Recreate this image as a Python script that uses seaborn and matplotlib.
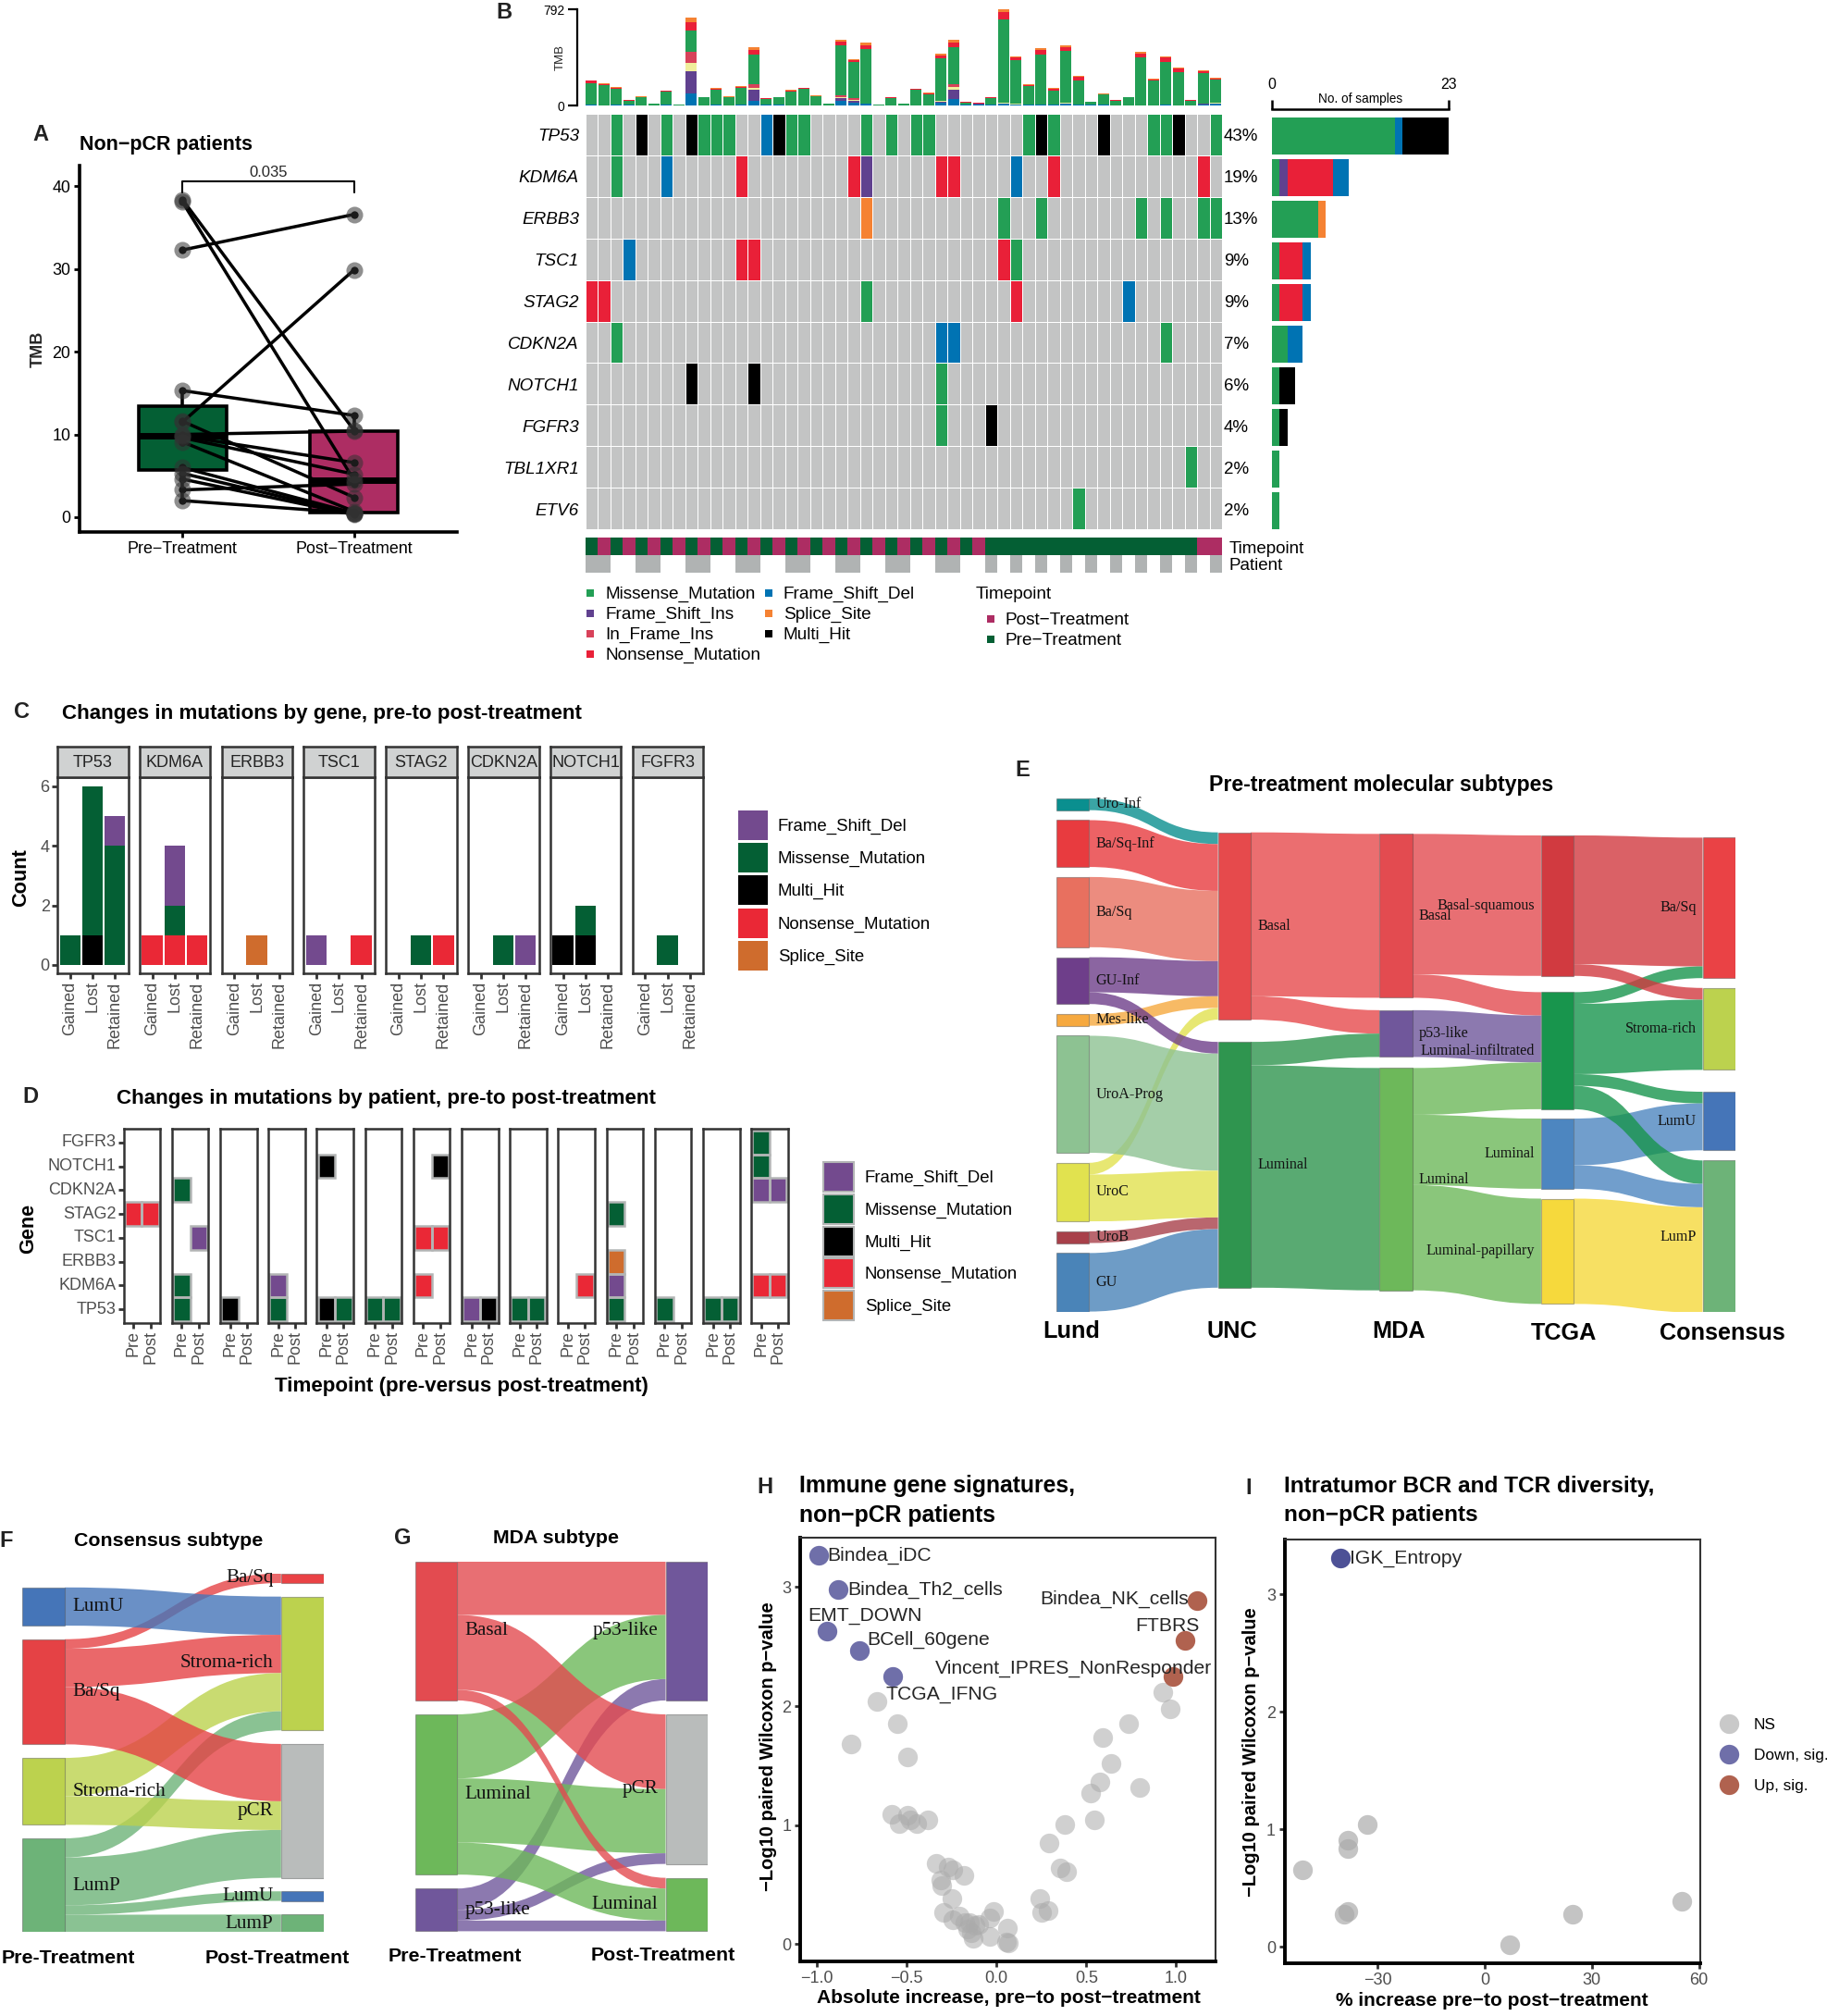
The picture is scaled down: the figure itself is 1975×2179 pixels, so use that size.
"""Multi-panel figure: TMB, oncoplot, mutation changes, subtype flows, volcano plots."""
import numpy as np
import pandas as pd
import matplotlib
matplotlib.use("Agg")
import matplotlib.pyplot as plt
import seaborn as sns
from matplotlib.colors import ListedColormap
from matplotlib.patches import PathPatch, Rectangle
from matplotlib.path import Path

W, H = 1975, 2179

# ---- panel A
a_pre = [38.4, 38.1, 32.3, 15.3, 11.5, 11.6, 10.0, 9.8, 9.6, 9.1, 6.0, 5.3, 4.6, 3.3, 2.0]
a_post = [10.5, 4.5, 36.6, 12.3, 29.9, 2.4, 10.4, 6.6, 5.2, 0.7, 0.5, 0.4, 0.3, 4.0, 0.5]

# ---- panel B
genes = ["TP53", "KDM6A", "ERBB3", "TSC1", "STAG2", "CDKN2A", "NOTCH1", "FGFR3", "TBL1XR1", "ETV6"]
gene_pct = ["43%", "19%", "13%", "9%", "9%", "7%", "6%", "4%", "2%", "2%"]
onco_hits = [
    ("TP53", "M", [2, 6, 9, 10, 11, 16, 17, 22, 24, 26, 27, 35, 37, 45, 46, 50]),
    ("TP53", "H", [4, 8, 15, 36, 41, 47]),
    ("TP53", "F", [14]),
    ("KDM6A", "M", [2]),
    ("KDM6A", "F", [6, 34]),
    ("KDM6A", "N", [12, 21, 28, 29, 37, 49]),
    ("KDM6A", "P", [22]),
    ("ERBB3", "S", [22]),
    ("ERBB3", "M", [33, 36, 44, 46, 49, 50]),
    ("TSC1", "F", [3]),
    ("TSC1", "N", [12, 13, 33]),
    ("TSC1", "M", [34]),
    ("STAG2", "N", [0, 1, 34]),
    ("STAG2", "M", [22]),
    ("STAG2", "F", [43]),
    ("CDKN2A", "M", [2, 46]),
    ("CDKN2A", "F", [28, 29]),
    ("NOTCH1", "H", [8, 13]),
    ("NOTCH1", "M", [28]),
    ("FGFR3", "M", [28]),
    ("FGFR3", "H", [32]),
    ("TBL1XR1", "M", [48]),
    ("ETV6", "M", [39]),
]
tmb_blue = [5, 3, 5, 5, 3, 0, 5, 2, 97, 3, 5, 3, 5, 36, 8, 8, 3, 3, 3, 0, 38, 25, 18, 0, 3, 3, 3, 3, 25, 56, 5, 8, 8, 15, 10, 10, 5, 8, 13, 5, 5, 8, 3, 3, 3, 3, 5, 3, 3, 8, 13]
tmb_purple = [0, 0, 0, 3, 0, 3, 0, 0, 188, 0, 3, 0, 0, 91, 0, 0, 0, 0, 0, 0, 20, 13, 0, 3, 0, 0, 0, 0, 3, 71, 3, 5, 0, 0, 0, 0, 0, 3, 5, 0, 0, 0, 0, 0, 0, 0, 0, 0, 0, 5, 3]
tmb_yellow = [3, 0, 0, 0, 0, 0, 0, 0, 63, 0, 0, 0, 0, 18, 0, 0, 0, 0, 0, 0, 13, 8, 0, 0, 0, 0, 0, 0, 8, 23, 0, 0, 0, 5, 5, 0, 3, 0, 8, 0, 0, 0, 0, 0, 0, 0, 3, 0, 0, 3, 5]
tmb_pink = [0, 0, 0, 0, 0, 0, 0, 0, 94, 0, 0, 0, 0, 33, 0, 0, 0, 0, 0, 0, 10, 13, 0, 0, 0, 0, 0, 0, 0, 23, 0, 0, 0, 0, 0, 0, 0, 0, 0, 0, 0, 0, 0, 0, 0, 0, 0, 0, 0, 0, 0]
tmb_green = [175, 162, 132, 33, 63, 9, 108, 6, 178, 65, 121, 65, 141, 244, 47, 58, 113, 131, 70, 12, 414, 302, 445, 5, 58, 9, 123, 90, 350, 307, 17, 2, 55, 686, 355, 150, 413, 114, 424, 198, 22, 81, 37, 63, 393, 202, 352, 274, 37, 248, 190]
tmb_red = [20, 13, 10, 2, 5, 3, 8, 0, 66, 3, 10, 3, 8, 38, 3, 3, 8, 8, 5, 0, 30, 13, 30, 0, 5, 0, 8, 8, 25, 38, 2, 5, 3, 66, 28, 10, 36, 15, 30, 33, 3, 5, 3, 0, 30, 10, 38, 28, 3, 18, 10]
tmb_orange = [5, 5, 3, 0, 3, 0, 3, 0, 36, 0, 3, 3, 3, 18, 3, 0, 3, 3, 3, 3, 18, 8, 23, 0, 3, 3, 3, 3, 13, 20, 3, 3, 3, 20, 8, 5, 15, 5, 15, 8, 0, 5, 0, 3, 13, 3, 8, 5, 0, 8, 8]
side_green = [16, 1, 6, 1, 1, 2, 1, 1, 1, 1]
side_purple = [0, 1, 0, 0, 0, 0, 0, 0, 0, 0]
side_red = [0, 6, 0, 3, 3, 0, 0, 0, 0, 0]
side_blue = [1, 2, 0, 1, 1, 2, 0, 0, 0, 0]
side_orange = [0, 0, 1, 0, 0, 0, 0, 0, 0, 0]
side_black = [6, 0, 0, 0, 0, 0, 2, 1, 0, 0]
track_time = [0, 1] * 16 + [0] * 17 + [1, 1]
track_patient = [2, 2, 3, 3] * 8 + [2, 3] * 9 + [2]

# ---- panel C
c_genes = ["TP53", "KDM6A", "ERBB3", "TSC1", "STAG2", "CDKN2A", "NOTCH1", "FGFR3"]
c_status = ["Gained", "Lost", "Retained"]
c_splice = [[0, 0, 0], [0, 0, 0], [0, 1, 0], [0, 0, 0], [0, 0, 0], [0, 0, 0], [0, 0, 0], [0, 0, 0]]
c_nonsense = [[0, 0, 0], [1, 1, 1], [0, 0, 0], [0, 0, 1], [0, 0, 1], [0, 0, 0], [0, 0, 0], [0, 0, 0]]
c_multi = [[0, 1, 0], [0, 0, 0], [0, 0, 0], [0, 0, 0], [0, 0, 0], [0, 0, 0], [1, 1, 0], [0, 0, 0]]
c_missense = [[1, 5, 4], [0, 1, 0], [0, 0, 0], [0, 0, 0], [0, 1, 0], [0, 1, 0], [0, 1, 0], [0, 1, 0]]
c_fsd = [[0, 0, 1], [0, 2, 0], [0, 0, 0], [1, 0, 0], [0, 0, 0], [0, 0, 1], [0, 0, 0], [0, 0, 0]]
mut_types = ["Frame_Shift_Del", "Missense_Mutation", "Multi_Hit", "Nonsense_Mutation", "Splice_Site"]

# ---- panel D: (gene, timepoint index, mutation type index) per patient
d_genes = ["FGFR3", "NOTCH1", "CDKN2A", "STAG2", "TSC1", "ERBB3", "KDM6A", "TP53"]
d_patients = [
    [("STAG2", 0, 3), ("STAG2", 1, 3)],
    [("CDKN2A", 0, 1), ("TSC1", 1, 0), ("KDM6A", 0, 1), ("TP53", 0, 1)],
    [("TP53", 0, 2)],
    [("KDM6A", 0, 0), ("TP53", 0, 1)],
    [("NOTCH1", 0, 2), ("TP53", 0, 2), ("TP53", 1, 1)],
    [("TP53", 0, 1), ("TP53", 1, 1)],
    [("NOTCH1", 1, 2), ("TSC1", 0, 3), ("TSC1", 1, 3), ("KDM6A", 0, 3)],
    [("TP53", 0, 0), ("TP53", 1, 2)],
    [("TP53", 0, 1), ("TP53", 1, 1)],
    [("KDM6A", 1, 3)],
    [("STAG2", 0, 1), ("ERBB3", 0, 4), ("KDM6A", 0, 0), ("TP53", 0, 1)],
    [("TP53", 0, 1)],
    [("TP53", 0, 1), ("TP53", 1, 1)],
    [("FGFR3", 0, 1), ("NOTCH1", 0, 1), ("CDKN2A", 0, 0), ("CDKN2A", 1, 0), ("KDM6A", 0, 3), ("KDM6A", 1, 3)],
]

# ---- panel E flows
e_nodes = [
    ["Uro-Inf", "Ba/Sq-Inf", "Ba/Sq", "GU-Inf", "Mes-like", "UroA-Prog", "UroC", "UroB", "GU"],
    ["Basal", "Luminal"],
    ["Basal", "p53-like", "Luminal"],
    ["Basal-squamous", "Luminal-infiltrated", "Luminal", "Luminal-papillary"],
    ["Ba/Sq", "Stroma-rich", "LumU", "LumP"],
]
e_flows = [
    (0, "Uro-Inf", "Basal", 1), (0, "Ba/Sq-Inf", "Basal", 4), (0, "Ba/Sq", "Basal", 6),
    (0, "GU-Inf", "Basal", 3), (0, "GU-Inf", "Luminal", 1), (0, "Mes-like", "Basal", 1),
    (0, "UroA-Prog", "Luminal", 10), (0, "UroC", "Basal", 1), (0, "UroC", "Luminal", 4),
    (0, "UroB", "Luminal", 1), (0, "GU", "Luminal", 5),
    (1, "Basal", "Basal", 14), (1, "Basal", "p53-like", 2),
    (1, "Luminal", "p53-like", 2), (1, "Luminal", "Luminal", 19),
    (2, "Basal", "Basal-squamous", 12), (2, "Basal", "Luminal-infiltrated", 2),
    (2, "p53-like", "Luminal-infiltrated", 4), (2, "Luminal", "Luminal-infiltrated", 4),
    (2, "Luminal", "Luminal", 6), (2, "Luminal", "Luminal-papillary", 9),
    (3, "Basal-squamous", "Ba/Sq", 11), (3, "Basal-squamous", "Stroma-rich", 1),
    (3, "Luminal-infiltrated", "Ba/Sq", 1), (3, "Luminal-infiltrated", "Stroma-rich", 6),
    (3, "Luminal-infiltrated", "LumU", 1), (3, "Luminal-infiltrated", "LumP", 2),
    (3, "Luminal", "LumU", 4), (3, "Luminal", "LumP", 2), (3, "Luminal-papillary", "LumP", 9),
]
e_colors = [
    ["#0a8f8f", "#e83b3f", "#e8705f", "#6e3e8a", "#f6a93f", "#8dc292", "#e1e24f", "#a8404a", "#4a84b8"],
    ["#e64a4c", "#2f954f"],
    ["#e34b50", "#70579b", "#6db85a"],
    ["#d13a40", "#18954d", "#4d86c0", "#f6d93c"],
    ["#ea4245", "#bcd24e", "#4575b8", "#6db378"],
]

# ---- panel F flows
f_nodes = [["LumU", "Ba/Sq", "Stroma-rich", "LumP"], ["Ba/Sq", "Stroma-rich", "pCR", "LumU", "LumP"]]
f_flows = [
    (0, "LumU", "Stroma-rich", 4), (0, "Ba/Sq", "Ba/Sq", 1), (0, "Ba/Sq", "Stroma-rich", 4),
    (0, "Ba/Sq", "pCR", 6), (0, "Stroma-rich", "Stroma-rich", 4), (0, "Stroma-rich", "pCR", 3),
    (0, "LumP", "Stroma-rich", 2), (0, "LumP", "pCR", 5), (0, "LumP", "LumU", 1), (0, "LumP", "LumP", 2),
]
f_colors = [["#4575b8", "#e54245", "#bcd24e", "#6db378"], ["#ea4245", "#bcd24e", "#b9bcbb", "#4575b8", "#6db378"]]

# ---- panel G flows
g_nodes = [["Basal", "Luminal", "p53-like"], ["p53-like", "pCR", "Luminal"]]
g_flows = [
    (0, "Basal", "p53-like", 5), (0, "Basal", "pCR", 7), (0, "Basal", "Luminal", 1),
    (0, "Luminal", "p53-like", 6), (0, "Luminal", "pCR", 6), (0, "Luminal", "Luminal", 3),
    (0, "p53-like", "p53-like", 2), (0, "p53-like", "pCR", 1), (0, "p53-like", "Luminal", 1),
]
g_colors = [["#e34b50", "#6db85a", "#70579b"], ["#70579b", "#b9bcbb", "#6db85a"]]

# ---- panel H
h_down_x = [-0.99, -0.882, -0.947, -0.766, -0.577]
h_down_y = [3.27, 2.98, 2.63, 2.47, 2.25]
h_up_x = [1.118, 1.052, 0.982]
h_up_y = [2.885, 2.55, 2.25]
h_ns_x = [-0.665, -0.555, -0.813, -0.498, -0.586, -0.542, -0.494, -0.481, -0.444, -0.385, -0.334, -0.27, -0.242, -0.181, -0.31, -0.303, -0.247, -0.297, -0.242, -0.205, -0.178, -0.159, -0.141, -0.132, -0.1, -0.15, -0.122, -0.036, -0.018, -0.036, 0.058, 0.056, 0.065, 0.24, 0.249, 0.286, 0.292, 0.352, 0.389, 0.382, 0.547, 0.525, 0.577, 0.639, 0.591, 0.738, 0.797, 0.928, 0.968]
h_ns_y = [2.04, 1.855, 1.68, 1.57, 1.09, 1.01, 1.085, 1.04, 1.01, 1.046, 0.676, 0.643, 0.62, 0.575, 0.54, 0.493, 0.384, 0.262, 0.2, 0.234, 0.18, 0.125, 0.098, 0.044, 0.166, 0.18, 0.153, 0.22, 0.275, 0.065, 0.13, 0.016, 0.011, 0.379, 0.262, 0.28, 0.847, 0.638, 0.61, 1.005, 1.046, 1.27, 1.365, 1.515, 1.733, 1.855, 1.313, 2.115, 1.978]
h_left_labels = ["Bindea_iDC", "Bindea_Th2_cells", "EMT_DOWN", "BCell_60gene", "TCGA_IFNG"]
h_left_x = [-0.941, -0.831, -1.052, -0.72, -0.619]
h_left_y = [3.264, 2.98, 2.76, 2.556, 2.098]
h_right_labels = ["Bindea_NK_cells", "FTBRS", "Vincent_IPRES_NonResponder"]
h_right_x = [1.07, 1.129, 1.198]
h_right_y = [2.897, 2.673, 2.32]

# ---- panel I
i_ns_x = [-32.9, -38.3, -38.4, -50.9, -38.2, -39.4, 7.1, 24.5, 55.2]
i_ns_y = [1.04, 0.91, 0.835, 0.66, 0.30, 0.28, 0.02, 0.278, 0.386]
i_down_x = [-40.3]
i_down_y = [3.31]

C_PRE = "#045f34"
C_POST = "#ad2d63"
ONCO = {"M": "#239f55", "H": "#000000", "F": "#0073b3", "N": "#e92038", "P": "#60418f", "S": "#f58233"}
MUT_COLORS = ["#734a8e", "#045f34", "#000000", "#ea2836", "#cf6c2d"]
GREY_TXT = "#4d4d4d"
DARK = "#333333"

sns.set_theme(style="white")
plt.rcParams["font.family"] = ["Liberation Sans", "DejaVu Sans"]
plt.rcParams["axes.unicode_minus"] = True

fig = plt.figure(figsize=(W / 100, H / 100), dpi=100, facecolor="white")


def px_axes(x0, y0, x1, y1, **kws):
    return fig.add_axes([x0 / W, 1 - y1 / H, (x1 - x0) / W, (y1 - y0) / H], **kws)


pix = px_axes(0, 0, W, H, zorder=20)
pix.set_xlim(0, W)
pix.set_ylim(H, 0)
pix.axis("off")
pix.patch.set_alpha(0)


def note(x, y, s, size=13, weight="normal", ha="left", va="center", color="black", **kws):
    pix.text(x, y + 1.5, s, fontsize=size, fontweight=weight, ha=ha, va=va, color=color, **kws)


for letter, lx, ly in [("A", 44, 144), ("B", 545, 12), ("C", 24, 768), ("D", 33, 1184), ("E", 1105, 831),
                       ("F", 7, 1664), ("G", 435, 1661), ("H", 827, 1606), ("I", 1350, 1607)]:
    note(lx, ly, letter, size=17, weight="bold", ha="center", color="#222222")

# ---- A: paired TMB box plot
df_a = pd.DataFrame({"Timepoint": ["Pre\u2212Treatment"] * 15 + ["Post\u2212Treatment"] * 15, "TMB": a_pre + a_post})
ax = px_axes(86, 179, 494, 575)
sns.boxplot(data=df_a, x="Timepoint", y="TMB", hue="Timepoint", palette=[C_PRE, C_POST], saturation=1,
            width=0.51, linewidth=2.6, linecolor="black", showcaps=False, showfliers=False,
            medianprops={"linewidth": 5}, legend=False, ax=ax)
for y0, y1 in zip(a_pre, a_post):
    ax.plot([0, 1], [y0, y1], color="black", lw=2.5, solid_capstyle="round", zorder=4)
sns.stripplot(data=df_a, x="Timepoint", y="TMB", jitter=False, color="black", size=6, linewidth=0, zorder=4.5, ax=ax)
sns.stripplot(data=df_a, x="Timepoint", y="TMB", jitter=False, color="#333333", alpha=0.55, size=13,
              linewidth=0, zorder=5, ax=ax)
ax.plot([0, 0, 1, 1], [39.3, 40.6, 40.6, 39.3], color="black", lw=1.5, zorder=6, clip_on=False)
ax.text(0.5, 40.8, "0.035", ha="center", va="bottom", fontsize=12)
ax.set_xlim(-0.6, 1.6)
ax.set_ylim(-1.79, 42.5)
ax.set_yticks([0, 10, 20, 30, 40])
ax.set_xlabel("")
ax.set_ylabel("TMB", fontsize=13, fontweight="bold", labelpad=5)
ax.tick_params(left=True, bottom=True, width=2, length=4, labelsize=12.9, colors="black", pad=3)
sns.despine(ax=ax)
for s in ("left", "bottom"):
    ax.spines[s].set_linewidth(2.6)
    ax.spines[s].set_color("black")
note(86, 155, "Non\u2212pCR patients", size=15.5, weight="bold")

# ---- B: oncoplot tracks
ax = px_axes(632.5, 10, 1321, 114)
cols = list(range(51))
bottom = np.zeros(51)
for values, colr in [(tmb_blue, "#0073b3"), (tmb_purple, "#60418f"), (tmb_yellow, "#f0ee9c"), (tmb_pink, "#d8425a"),
                     (tmb_green, "#239f55"), (tmb_red, "#e92038"), (tmb_orange, "#f58233")]:
    sns.barplot(x=cols, y=values, bottom=bottom, color=colr, saturation=1, width=0.92, errorbar=None,
                linewidth=0, ax=ax)
    bottom = bottom + np.array(values)
ax.set_xlim(-0.5, 50.5)
ax.set_ylim(0, 792)
ax.set_yticks([0, 792])
ax.set_xticks([])
ax.set_xlabel("")
ax.set_ylabel("TMB", fontsize=9.5, labelpad=-18)
sns.despine(ax=ax, bottom=True)
ax.spines["left"].set_position(("outward", 6))
ax.spines["left"].set_linewidth(1.6)
ax.spines["left"].set_color("black")
ax.tick_params(left=True, length=7, width=1.6, labelsize=10, colors="black", pad=3)

code_of = {"M": 1, "H": 2, "F": 3, "N": 4, "P": 5, "S": 6}
onco = np.zeros((10, 51))
for gene, kind, hit_cols in onco_hits:
    onco[genes.index(gene), hit_cols] = code_of[kind]
ax = px_axes(632.5, 123, 1321, 572)
sns.heatmap(onco, cmap=ListedColormap(["#c3c4c4", ONCO["M"], ONCO["H"], ONCO["F"], ONCO["N"], ONCO["P"], ONCO["S"]]),
            vmin=-0.5, vmax=6.5, cbar=False, linewidths=0.55, linecolor="white", xticklabels=False, yticklabels=False, ax=ax)
ax.set_yticks([])
for i, gene in enumerate(genes):
    note(626, 124 + 44.9 * (i + 0.5), gene, size=13.6, ha="right", style="italic")
    note(1323, 124 + 44.9 * (i + 0.5), gene_pct[i], size=13.5)

ax = px_axes(632.5, 581, 1321, 619)
sns.heatmap(np.array([track_time, track_patient]), cmap=ListedColormap([C_PRE, C_POST, "#b0b3b3", "white"]),
            vmin=-0.5, vmax=3.5, cbar=False, linewidths=0, xticklabels=False, yticklabels=False, ax=ax)
note(1329, 592, "Timepoint", size=13.5)
note(1329, 610, "Patient", size=13.5)

ax = px_axes(1375, 125, 1566, 574)
left = np.zeros(10)
for values, colr in [(side_green, ONCO["M"]), (side_purple, ONCO["P"]), (side_red, ONCO["N"]), (side_blue, ONCO["F"]),
                     (side_orange, ONCO["S"]), (side_black, ONCO["H"])]:
    sns.barplot(y=genes, x=values, left=left, color=colr, saturation=1, width=0.89, errorbar=None, linewidth=0,
                orient="y", order=genes, ax=ax)
    left = left + np.array(values)
ax.set_xlim(0, 23)
ax.set_ylim(9.5, -0.5)
ax.set_yticks([])
ax.set_xlabel("")
ax.set_ylabel("")
ax.set_xticks([0, 23])
ax.set_xticklabels(["0", "23"])
sns.despine(ax=ax, left=True, bottom=True, top=False)
ax.spines["top"].set_position(("outward", 5))
ax.spines["top"].set_linewidth(1.8)
ax.spines["top"].set_color("black")
ax.tick_params(axis="x", top=True, labeltop=True, bottom=False, labelbottom=False, direction="out",
               length=7, width=1.8, color="black", labelcolor="black", labelsize=11.5, pad=7)
note(1471, 105, "No. of samples", size=9.8, ha="center")

for lab, kx, ky, colr in [("Missense_Mutation", 638, 641, ONCO["M"]), ("Frame_Shift_Ins", 638, 663, ONCO["P"]),
                          ("In_Frame_Ins", 638, 685, "#d8425a"), ("Nonsense_Mutation", 638, 707, ONCO["N"]),
                          ("Frame_Shift_Del", 831, 641, ONCO["F"]), ("Splice_Site", 831, 663, ONCO["S"]),
                          ("Multi_Hit", 831, 685, ONCO["H"]), ("Post\u2212Treatment", 1071, 669, C_POST),
                          ("Pre\u2212Treatment", 1071, 691, C_PRE)]:
    pix.add_patch(Rectangle((kx - 4, ky - 4), 8, 8, facecolor=colr, edgecolor="none"))
    note(kx + 16, ky, lab, size=13.7)
note(1055, 641, "Timepoint", size=13.7)

# ---- C: mutation changes by gene
note(67, 770, "Changes in mutations by gene, pre-to post-treatment", size=16.1, weight="bold")
for g, gene in enumerate(c_genes):
    x0 = 62 + 88.8 * g
    ax = px_axes(x0, 840, x0 + 76.5, 1052)
    bottom = np.zeros(3)
    for values, colr in [(c_splice, MUT_COLORS[4]), (c_nonsense, MUT_COLORS[3]), (c_multi, MUT_COLORS[2]),
                         (c_missense, MUT_COLORS[1]), (c_fsd, MUT_COLORS[0])]:
        sns.barplot(x=c_status, y=values[g], bottom=bottom, color=colr, saturation=1, width=0.92, errorbar=None,
                    linewidth=0, ax=ax)
        bottom = bottom + np.array(values[g])
    ax.set_xlim(-0.57, 2.59)
    ax.set_ylim(-0.28, 6.3)
    ax.set_yticks([0, 2, 4, 6])
    ax.set_xlabel("")
    ax.set_ylabel("")
    ax.tick_params(axis="x", rotation=90, bottom=True, length=4, width=2, color=DARK, labelcolor=GREY_TXT, labelsize=13, pad=2)
    ax.tick_params(axis="y", left=g == 0, labelleft=g == 0, length=4, width=2, color=DARK, labelcolor=GREY_TXT, labelsize=13, pad=2)
    for s in ax.spines.values():
        s.set_visible(True)
        s.set_color(DARK)
        s.set_linewidth(1.8)
    strip = px_axes(x0, 807, x0 + 76.5, 840, facecolor="#d0d2d2")
    strip.set_xticks([])
    strip.set_yticks([])
    for s in strip.spines.values():
        s.set_visible(True)
        s.set_color(DARK)
        s.set_linewidth(1.8)
    strip.text(0.5, 0.46, gene, ha="center", va="center", fontsize=13, color="#222222", transform=strip.transAxes)
note(23, 947, "Count", size=15.7, weight="bold", rotation=90, ha="center")
for k, lab in enumerate(mut_types):
    yy = 892 + 35.2 * k
    pix.add_patch(Rectangle((798, yy - 16), 32, 32, facecolor=MUT_COLORS[k], edgecolor="none"))
    note(841, yy, lab, size=13.4)

# ---- D: mutation changes by patient
note(126, 1186, "Changes in mutations by patient, pre-to post-treatment", size=16.1, weight="bold")
for p, cells in enumerate(d_patients):
    x0 = 133.6 + 52.2 * p
    ax = px_axes(x0, 1220, x0 + 39.5, 1430)
    mat = np.full((8, 2), np.nan)
    for gene, tp, kind in cells:
        mat[d_genes.index(gene), tp] = kind
    sns.heatmap(mat, cmap=ListedColormap(MUT_COLORS), vmin=-0.5, vmax=4.5, cbar=False, linewidths=0, ax=ax)
    # the grey tile outlines only go round filled cells
    for gene, tp, kind in cells:
        ax.add_patch(Rectangle((tp, d_genes.index(gene)), 1, 1, fill=False, edgecolor="#b3b5b5", lw=1.8))
    ax.set_xlim(-0.07, 2.07)
    ax.set_ylim(8.07, -0.07)
    ax.set_xticks([0.5, 1.5])
    ax.set_xticklabels(["Pre", "Post"], rotation=90)
    ax.set_yticks(np.arange(8) + 0.5)
    ax.set_yticklabels(d_genes if p == 0 else [], rotation=0)
    ax.tick_params(axis="x", bottom=True, length=4, width=2, color=DARK, labelcolor=GREY_TXT, labelsize=13, pad=2)
    ax.tick_params(axis="y", left=p == 0, length=4, width=2, color=DARK, labelcolor=GREY_TXT, labelsize=13, pad=2)
    for s in ax.spines.values():
        s.set_visible(True)
        s.set_color(DARK)
        s.set_linewidth(1.8)
note(31, 1326, "Gene", size=15.6, weight="bold", rotation=90, ha="center")
note(499, 1497, "Timepoint (pre-versus post-treatment)", size=16.1, weight="bold", ha="center")
for k, lab in enumerate(mut_types):
    yy = 1272 + 34.8 * k
    pix.add_patch(Rectangle((890, yy - 16), 33, 32, facecolor=MUT_COLORS[k], edgecolor="#b3b5b5", lw=1.5))
    note(935, yy, lab, size=13.4)


# ---- sankey helper
def draw_sankey(ax, nodes, flows, colors, starts, gaps, node_w, label_size, label_pad, label_sides, alpha=0.8):
    tops, sizes = {}, {}
    for st, names in enumerate(nodes):
        for name in names:
            total_out = sum(f[3] for f in flows if f[0] == st and f[1] == name)
            total_in = sum(f[3] for f in flows if f[0] == st - 1 and f[2] == name)
            sizes[(st, name)] = max(total_out, total_in)
        y = starts[st]
        for i, name in enumerate(names):
            tops[(st, name)] = y
            y += sizes[(st, name)] + (gaps[st][i] if i < len(gaps[st]) else 0)
    out_used = {k: 0.0 for k in tops}
    in_used = {k: 0.0 for k in tops}
    order = sorted(flows, key=lambda f: (f[0], nodes[f[0]].index(f[1]), nodes[f[0] + 1].index(f[2])))
    starts_out = {}
    for f in order:
        key = (f[0], f[1])
        starts_out[f] = tops[key] + out_used[key]
        out_used[key] += f[3]
    order_in = sorted(flows, key=lambda f: (f[0], nodes[f[0] + 1].index(f[2]), nodes[f[0]].index(f[1])))
    for f in order_in:
        key = (f[0] + 1, f[2])
        y0 = starts_out[f]
        y1 = tops[key] + in_used[key]
        in_used[key] += f[3]
        xa, xb = f[0] + node_w, f[0] + 1
        xm = (xa + xb) / 2
        verts = [(xa, y0), (xm, y0), (xm, y1), (xb, y1), (xb, y1 + f[3]), (xm, y1 + f[3]), (xm, y0 + f[3]), (xa, y0 + f[3]), (xa, y0)]
        codes = [Path.MOVETO, Path.CURVE4, Path.CURVE4, Path.CURVE4, Path.LINETO, Path.CURVE4, Path.CURVE4, Path.CURVE4, Path.CLOSEPOLY]
        colr = colors[f[0]][nodes[f[0]].index(f[1])]
        ax.add_patch(PathPatch(Path(verts, codes), facecolor=colr, edgecolor="none", alpha=alpha, zorder=2))
    for st, names in enumerate(nodes):
        for i, name in enumerate(names):
            ax.add_patch(Rectangle((st, tops[(st, name)]), node_w, sizes[(st, name)], facecolor=colors[st][i],
                                   edgecolor="#44444466", lw=0.8, zorder=3))
            mid = tops[(st, name)] + sizes[(st, name)] / 2
            if label_sides[st] == "right":
                ax.text(st + node_w + label_pad, mid, name, ha="left", va="center", fontsize=label_size,
                        family="Liberation Serif", color="#111111", zorder=4)
            else:
                ax.text(st - label_pad, mid, name, ha="right", va="center", fontsize=label_size,
                        family="Liberation Serif", color="#111111", zorder=4)
    ax.set_xlim(0, len(nodes) - 1 + node_w)
    ax.axis("off")


# ---- E
ax = px_axes(1142, 863, 1876, 1417.6)
draw_sankey(ax, e_nodes, e_flows, e_colors, starts=[0, 2.9, 3.03, 3.16, 3.35],
            gaps=[[0.855] * 8, [1.9], [1.06, 0.94], [1.39, 0.8, 0.84], [0.84, 1.87, 0.87]],
            node_w=0.203, label_size=11.6, label_pad=0.04,
            label_sides=["right", "right", "right", "left", "left"])
ax.set_ylim(43.84, 0)
note(1493, 847, "Pre-treatment molecular subtypes", size=16.7, weight="bold", ha="center")
for lab, lx, ly in [("Lund", 1158, 1438), ("UNC", 1332, 1437), ("MDA", 1512, 1437), ("TCGA", 1690, 1439), ("Consensus", 1862, 1439)]:
    note(lx, ly, lab, size=18.2, weight="bold", ha="center")

# ---- F
ax = px_axes(24, 1700.7, 350, 2087.6)
draw_sankey(ax, f_nodes, f_flows, f_colors, starts=[1.46, 0], gaps=[[1.42] * 3, [1.42] * 4], node_w=0.165,
            label_size=15.2, label_pad=0.03, label_sides=["right", "left"])
ax.set_ylim(37.46, 0)
note(182, 1664, "Consensus subtype", size=15.4, weight="bold", ha="center")
note(74, 2115, "Pre-Treatment", size=15.4, weight="bold", ha="center")
note(300, 2115, "Post-Treatment", size=15.4, weight="bold", ha="center")

# ---- G
ax = px_axes(449, 1687.8, 765, 2089.7)
draw_sankey(ax, g_nodes, g_flows, g_colors, starts=[0, 0], gaps=[[1.3] * 2, [1.3] * 2], node_w=0.168,
            label_size=15.2, label_pad=0.03, label_sides=["right", "left"])
ax.set_ylim(34.8, 0)
note(601, 1661, "MDA subtype", size=15.4, weight="bold", ha="center")
note(492, 2113, "Pre-Treatment", size=15.4, weight="bold", ha="center")
note(717, 2112, "Post-Treatment", size=15.4, weight="bold", ha="center")


def volcano_frame(ax):
    ax.tick_params(left=True, bottom=True, length=4, width=2, color=DARK, labelcolor=GREY_TXT, labelsize=13, pad=3)
    for s, lw, colr in [("left", 2.8, "black"), ("bottom", 2.8, "black"), ("top", 1.5, DARK), ("right", 1.5, DARK)]:
        ax.spines[s].set_visible(True)
        ax.spines[s].set_linewidth(lw)
        ax.spines[s].set_color(colr)
    ax.set_xlabel("")
    ax.set_ylabel("")


# ---- H
ax = px_axes(865, 1661.5, 1314, 2120)
sns.scatterplot(x=h_ns_x, y=h_ns_y, color="#ababab", alpha=0.55, s=235, linewidth=0, ax=ax)
sns.scatterplot(x=h_down_x, y=h_down_y, color="#6f6fa9", s=235, linewidth=0, ax=ax)
sns.scatterplot(x=h_up_x, y=h_up_y, color="#b0624f", s=235, linewidth=0, ax=ax)
for lab, tx, ty in zip(h_left_labels, h_left_x, h_left_y):
    ax.text(tx, ty, lab, ha="left", va="center", fontsize=15.2, zorder=5)
for lab, tx, ty in zip(h_right_labels, h_right_x, h_right_y):
    ax.text(tx, ty, lab, ha="right", va="center", fontsize=15.2, zorder=5)
ax.set_xlim(-1.094, 1.22)
ax.set_ylim(-0.147, 3.42)
ax.set_xticks([-1, -0.5, 0, 0.5, 1])
ax.set_xticklabels(["\u22121.0", "\u22120.5", "0.0", "0.5", "1.0"])
ax.set_yticks([0, 1, 2, 3])
volcano_frame(ax)
note(864, 1605, "Immune gene signatures,", size=17.8, weight="bold")
note(864, 1636, "non\u2212pCR patients", size=17.8, weight="bold")
note(1090, 2158, "Absolute increase, pre\u2212to post\u2212treatment", size=15.05, weight="bold", ha="center")
note(830, 1886, "\u2212Log10 paired Wilcoxon p\u2212value", size=14.5, weight="bold", rotation=90, ha="center")

# ---- I
ax = px_axes(1388.6, 1664, 1837.8, 2122)
sns.scatterplot(x=i_ns_x, y=i_ns_y, color="#ababab", alpha=0.7, s=235, linewidth=0, ax=ax)
sns.scatterplot(x=i_down_x, y=i_down_y, color="#4d5196", s=235, linewidth=0, ax=ax)
ax.text(-37.9, 3.31, "IGK_Entropy", ha="left", va="center", fontsize=15.2)
ax.set_xlim(-56, 60.3)
ax.set_ylim(-0.138, 3.468)
ax.set_xticks([-30, 0, 30, 60])
ax.set_xticklabels(["\u221230", "0", "30", "60"])
ax.set_yticks([0, 1, 2, 3])
volcano_frame(ax)
note(1388, 1605, "Intratumor BCR and TCR diversity,", size=17.6, weight="bold")
note(1388, 1636, "non\u2212pCR patients", size=17.6, weight="bold")
note(1613, 2161, "% increase pre\u2212to post\u2212treatment", size=15.05, weight="bold", ha="center")
note(1353, 1892, "\u2212Log10 paired Wilcoxon p\u2212value", size=14.5, weight="bold", rotation=90, ha="center")
for lab, ky, colr in [("NS", 1863, "#c9c9c9"), ("Down, sig.", 1896, "#6f6fa9"), ("Up, sig.", 1929, "#b0624f")]:
    pix.scatter([1869], [ky], s=235, color=colr, linewidth=0)
    note(1896, ky, lab, size=12.4)

fig.savefig("out.png", dpi=100, facecolor="white")
